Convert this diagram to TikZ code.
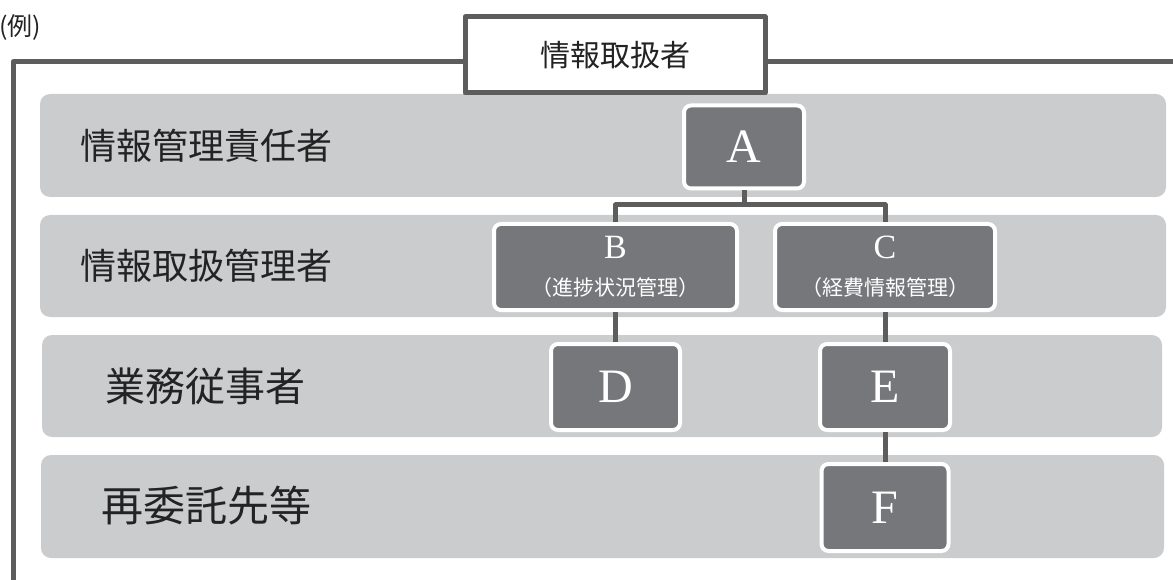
\documentclass[tikz,border=0pt]{standalone}
\usepackage{fontspec}
\newfontfamily\jp{Noto Sans CJK JP}
\newfontfamily\lat{Liberation Serif}
\definecolor{band}{RGB}{203,204,206}
\definecolor{boxgray}{RGB}{118,119,123}
\definecolor{framegray}{RGB}{93,93,93}
\definecolor{ink}{RGB}{35,35,35}

\begin{document}
\begin{tikzpicture}[x=1pt, y=-1pt, line join=round,
    row/.style={fill=band, rounded corners=10pt},
    rowlabel/.style={anchor=west, text=ink, font=\jp\fontsize{36}{40}\selectfont},
    box/.style={fill=boxgray, draw=white, line width=4pt, rounded corners=7pt, text=white, align=center, inner sep=0pt},
    link/.style={draw=framegray, line width=5pt}]
    \useasboundingbox (0,0) rectangle (1173,580);

    \node[anchor=west, text=ink, inner sep=0pt, font=\jp\fontsize{25}{28}\selectfont] (rei) at (-1,28) {(例)};

    % rows
    \fill[row] (40,94) rectangle (1166,197);
    \fill[row] (40,215) rectangle (1166,317);
    \fill[row] (42,335) rectangle (1162,437);
    \fill[row] (41,455) rectangle (1164,558);

    \node[rowlabel, inner sep=0pt] (l1) at (80,146) {情報管理責任者};
    \node[rowlabel, inner sep=0pt] (l2) at (80,266) {情報取扱管理者};
    \node[rowlabel, inner sep=0pt, font=\jp\fontsize{40}{44}\selectfont] (l3) at (105,386) {業務従事者};
    \node[rowlabel, inner sep=0pt, font=\jp\fontsize{42}{46}\selectfont] (l4) at (101,506) {再委託先等};

    % frame
    \node[draw=framegray, line width=5pt, fill=white, text=ink, minimum width=300pt, minimum height=76pt,
        font=\jp\fontsize{30}{34}\selectfont] (head) at (615,55) {情報取扱者};
    \draw[link] (13,580) -- (13,62) -- (head.west |- 0,62);
    \draw[link] (head.east |- 0,62) -- (1173,62);

    % boxes
    \node[box, minimum width=120pt, minimum height=83pt, font=\lat\fontsize{48}{52}\selectfont] (a) at (744,147) {A};
    \node[box, minimum width=243pt, minimum height=86pt] (b) at (615.5,267)
        {\lat\fontsize{34}{36}\selectfont B\\[18pt]\jp\fontsize{21}{24}\selectfont （進捗状況管理）};
    \node[box, minimum width=220pt, minimum height=86pt] (c) at (885,267)
        {\lat\fontsize{34}{36}\selectfont C\\[18pt]\jp\fontsize{21}{24}\selectfont （経費情報管理）};
    \node[box, minimum width=129pt, minimum height=86pt, font=\lat\fontsize{48}{52}\selectfont] (d) at (615.5,387) {D};
    \node[box, minimum width=130pt, minimum height=86pt, font=\lat\fontsize{48}{52}\selectfont] (e) at (885,387) {E};
    \node[box, minimum width=127pt, minimum height=87pt, font=\lat\fontsize{48}{52}\selectfont] (f) at (885,507.5) {F};

    % links
    \draw[link] (a.south) -- (a.south |- 0,205);
    \draw[link] (b.north) -- (b.north |- 0,205) -- (c.north |- 0,205) -- (c.north);
    \draw[link] (b) -- (d);
    \draw[link] (c) -- (e);
    \draw[link] (e) -- (f);
\end{tikzpicture}
\end{document}
